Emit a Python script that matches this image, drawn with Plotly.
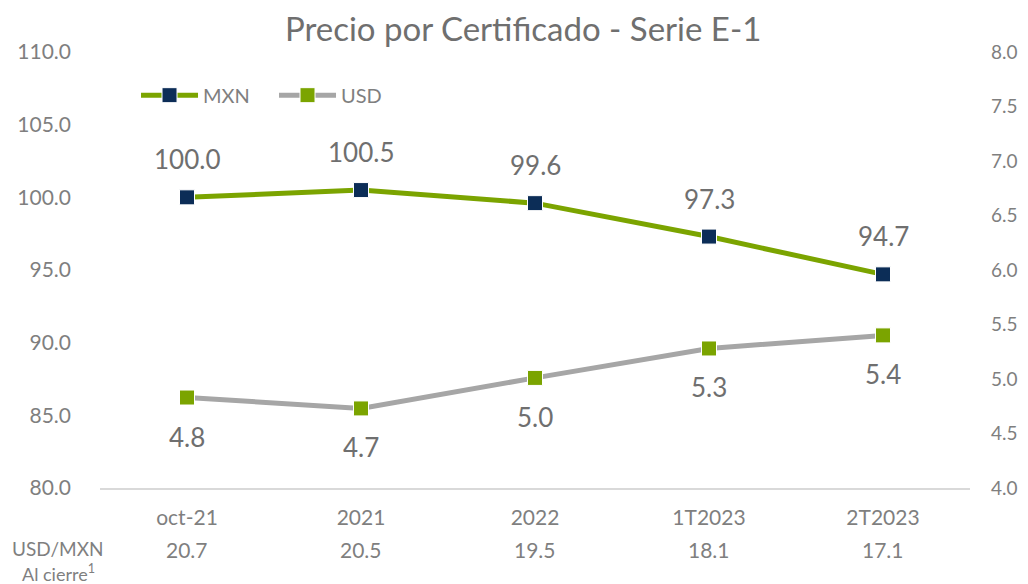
import plotly.graph_objects as go

categories = ["oct-21", "2021", "2022", "1T2023", "2T2023"]
mxn = [100.0, 100.5, 99.6, 97.3, 94.7]
usd = [4.83, 4.73, 5.01, 5.28, 5.40]
usd_labels = ["4.8", "4.7", "5.0", "5.3", "5.4"]
fx_close = ["20.7", "20.5", "19.5", "18.1", "17.1"]

GREEN = "#7BA400"
NAVY = "#0C2D57"
GRAY = "#A6A6A6"
TXT = "#7F7F7F"
LBL = "#6F6F6F"
FONT = "Lato, Open Sans, sans-serif"

xs = list(range(len(categories)))

fig = go.Figure()
fig.add_trace(go.Scatter(
    x=xs, y=mxn, name="MXN", mode="lines+markers",
    line=dict(color=GREEN, width=5),
    marker=dict(symbol="square", size=15, color=NAVY, line=dict(color="white", width=1)),
    yaxis="y",
))
fig.add_trace(go.Scatter(
    x=xs, y=usd, name="USD", mode="lines+markers",
    line=dict(color=GRAY, width=5),
    marker=dict(symbol="square", size=15, color=GREEN, line=dict(color="white", width=1)),
    yaxis="y2",
))

ann = []
for i, v in zip(xs, mxn):
    ann.append(dict(x=i, y=v, xref="x", yref="y", text=f"{v:.1f}", showarrow=False,
                    yshift=38, font=dict(size=26, color=LBL, family=FONT)))
for i, v, t in zip(xs, usd, usd_labels):
    ann.append(dict(x=i, y=v, xref="x", yref="y2", text=t, showarrow=False,
                    yshift=-39, font=dict(size=26, color=LBL, family=FONT)))
for i, r in zip(xs, fx_close):
    ann.append(dict(x=i, y=-0.14, xref="x", yref="paper", yanchor="middle", text=r, showarrow=False,
                    font=dict(size=21, color=TXT, family=FONT)))
ann.append(dict(x=-0.048, y=-0.138, xref="paper", yref="paper", yanchor="middle", text="USD/MXN",
                showarrow=False, xanchor="center", font=dict(size=19, color=TXT, family=FONT)))
ann.append(dict(x=-0.048, y=-0.194, xref="paper", yref="paper", yanchor="middle", text="Al cierre<sup>1</sup>",
                showarrow=False, xanchor="center", font=dict(size=18, color=TXT, family=FONT)))

fig.update_layout(
    width=1020, height=576,
    margin=dict(l=92, r=58, t=44, b=96, autoexpand=False),
    paper_bgcolor="white", plot_bgcolor="white",
    font=dict(family=FONT, color=TXT, size=21),
    title=dict(text="Precio por Certificado - Serie E-1", x=0.505, xanchor="center",
               y=0.9635, yanchor="middle", font=dict(size=33, color=LBL, family=FONT)),
    showlegend=True,
    legend=dict(orientation="h", x=0.0414, y=0.901, xanchor="left", yanchor="middle",
                font=dict(size=20, color=TXT, family=FONT), bgcolor="rgba(0,0,0,0)",
                itemwidth=57, entrywidth=66, entrywidthmode="pixels", tracegroupgap=0),
    xaxis=dict(range=[-0.5, 4.5], tickvals=xs, ticktext=categories, showgrid=False,
               showline=True, linecolor="#D9D9D9", linewidth=1.5, automargin=False,
               ticks="", tickfont=dict(size=21, color=TXT), zeroline=False, ticklabelstandoff=10),
    yaxis=dict(range=[80, 110], dtick=5, tickformat=".1f", showgrid=False, showline=False,
               automargin=False, zeroline=False, ticks="", tickfont=dict(size=21, color=TXT),
               ticklabelstandoff=28),
    yaxis2=dict(range=[4, 8], dtick=0.5, tickformat=".1f", overlaying="y", side="right",
                showgrid=False, showline=False, zeroline=False, ticks="", automargin=False,
                tickfont=dict(size=19, color=TXT), ticklabelstandoff=20),
    annotations=ann,
)

fig.write_html("out.html")
